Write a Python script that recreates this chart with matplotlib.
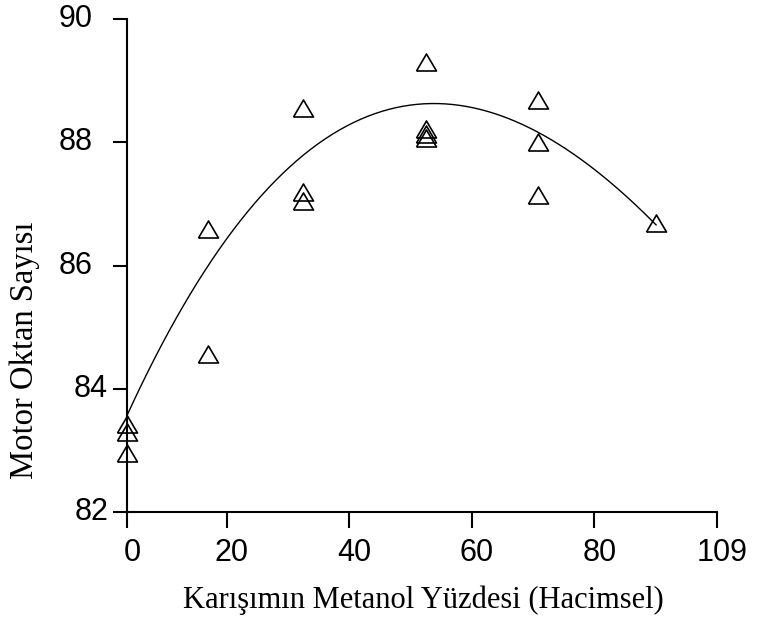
import numpy as np
import matplotlib
matplotlib.use("Agg")
import matplotlib.pyplot as plt
from matplotlib.transforms import ScaledTranslation

# Measured octane numbers for each methanol share of the blend
methanol_pct = [3.7, 3.7, 3.7,
                17.0, 17.0,
                32.4, 32.4, 32.4,
                52.5, 52.5, 52.5, 52.5,
                70.8, 70.8, 70.8,
                90.1]
octane = [83.43, 83.30, 82.95,
          86.59, 84.57,
          88.55, 87.20, 87.05,
          89.31, 88.21, 88.14, 88.07,
          88.68, 88.01, 87.14,
          86.69]

# Points along the regression curve
curve_x = [3.7, 7.5, 11.3, 17.8, 20.5, 23.5, 26.5, 29.2, 32.2, 37.4,
           43.4, 48.8, 54.0, 59.7, 65.2, 70.6, 76.0, 80.4, 85.8, 88.6]
curve_y = [83.52, 84.36, 85.06, 86.20, 86.58, 86.90, 87.17, 87.44, 87.71, 88.15,
           88.39, 88.59, 88.69, 88.59, 88.42, 88.16, 87.85, 87.52, 87.06, 86.82]

# Axis ticks
x_ticks = [3.72, 20, 40, 60, 80, 100]
x_tick_labels = ["0", "20", "40", "60", "80", "109"]
y_ticks = [82, 84, 86, 88, 90]
y_tick_labels = ["82", "84", "86", "88", "90"]

x_label = "Karışımın Metanol Yüzdesi (Hacimsel)"
y_label = "Motor Oktan Sayısı"

W, H = 758, 626
fig = plt.figure(figsize=(W / 100, H / 100), dpi=100)
fig.patch.set_facecolor("white")

left_px, right_px, top_px, bottom_px = 127, 716.7, 19, 512
ax = fig.add_axes([left_px / W, 1 - bottom_px / H,
                   (right_px - left_px) / W, (bottom_px - top_px) / H])
ax.set_xlim(x_ticks[0], x_ticks[-1])
ax.set_ylim(y_ticks[0], y_ticks[-1])

# Smooth cubic through the curve points
coef = np.polyfit(curve_x, curve_y, 3)
xs = np.linspace(methanol_pct[0], methanol_pct[-1], 300)
ax.plot(xs, np.polyval(coef, xs), color="black", lw=1.0, zorder=2,
        clip_on=False)

tri = [(-1, -0.85), (1, -0.85), (0, 0.85), (-1, -0.85)]
ax.plot(methanol_pct, octane, linestyle="none", marker=tri, ms=14.4,
        mfc="none", mec="black", mew=1.2, zorder=3, clip_on=False)

for side in ("top", "right"):
    ax.spines[side].set_visible(False)
for side in ("left", "bottom"):
    ax.spines[side].set_linewidth(1.5)

tick_font = dict(family="Liberation Sans", size=22)
ax.set_xticks(x_ticks)
ax.set_xticklabels(x_tick_labels, **tick_font)
ax.set_yticks(y_ticks)
ax.set_yticklabels(y_tick_labels, **tick_font)
ax.tick_params(axis="x", direction="out", length=11.5, width=1.5, pad=7)
ax.tick_params(axis="y", direction="out", length=10, width=1.5, pad=3.6)
for lbl in ax.get_yticklabels():
    lbl.set_verticalalignment("center")

# upper y labels sit further from the axis
for tk, val in zip(ax.yaxis.get_major_ticks(), y_ticks):
    if val >= 86:
        tk.set_pad(15)

shift = ScaledTranslation(5 / 100, 0, fig.dpi_scale_trans)
for lbl in ax.get_xticklabels():
    lbl.set_transform(lbl.get_transform() + shift)

fig.text(423 / W, 1 - 608 / H, x_label, ha="center", va="baseline",
         family="Liberation Serif", size=22)
fig.text(24.5 / W, 1 - 479 / H, y_label, ha="center", va="bottom",
         rotation=90, family="Liberation Serif", size=23.5)

fig.savefig("out.png", dpi=100, facecolor="white")
